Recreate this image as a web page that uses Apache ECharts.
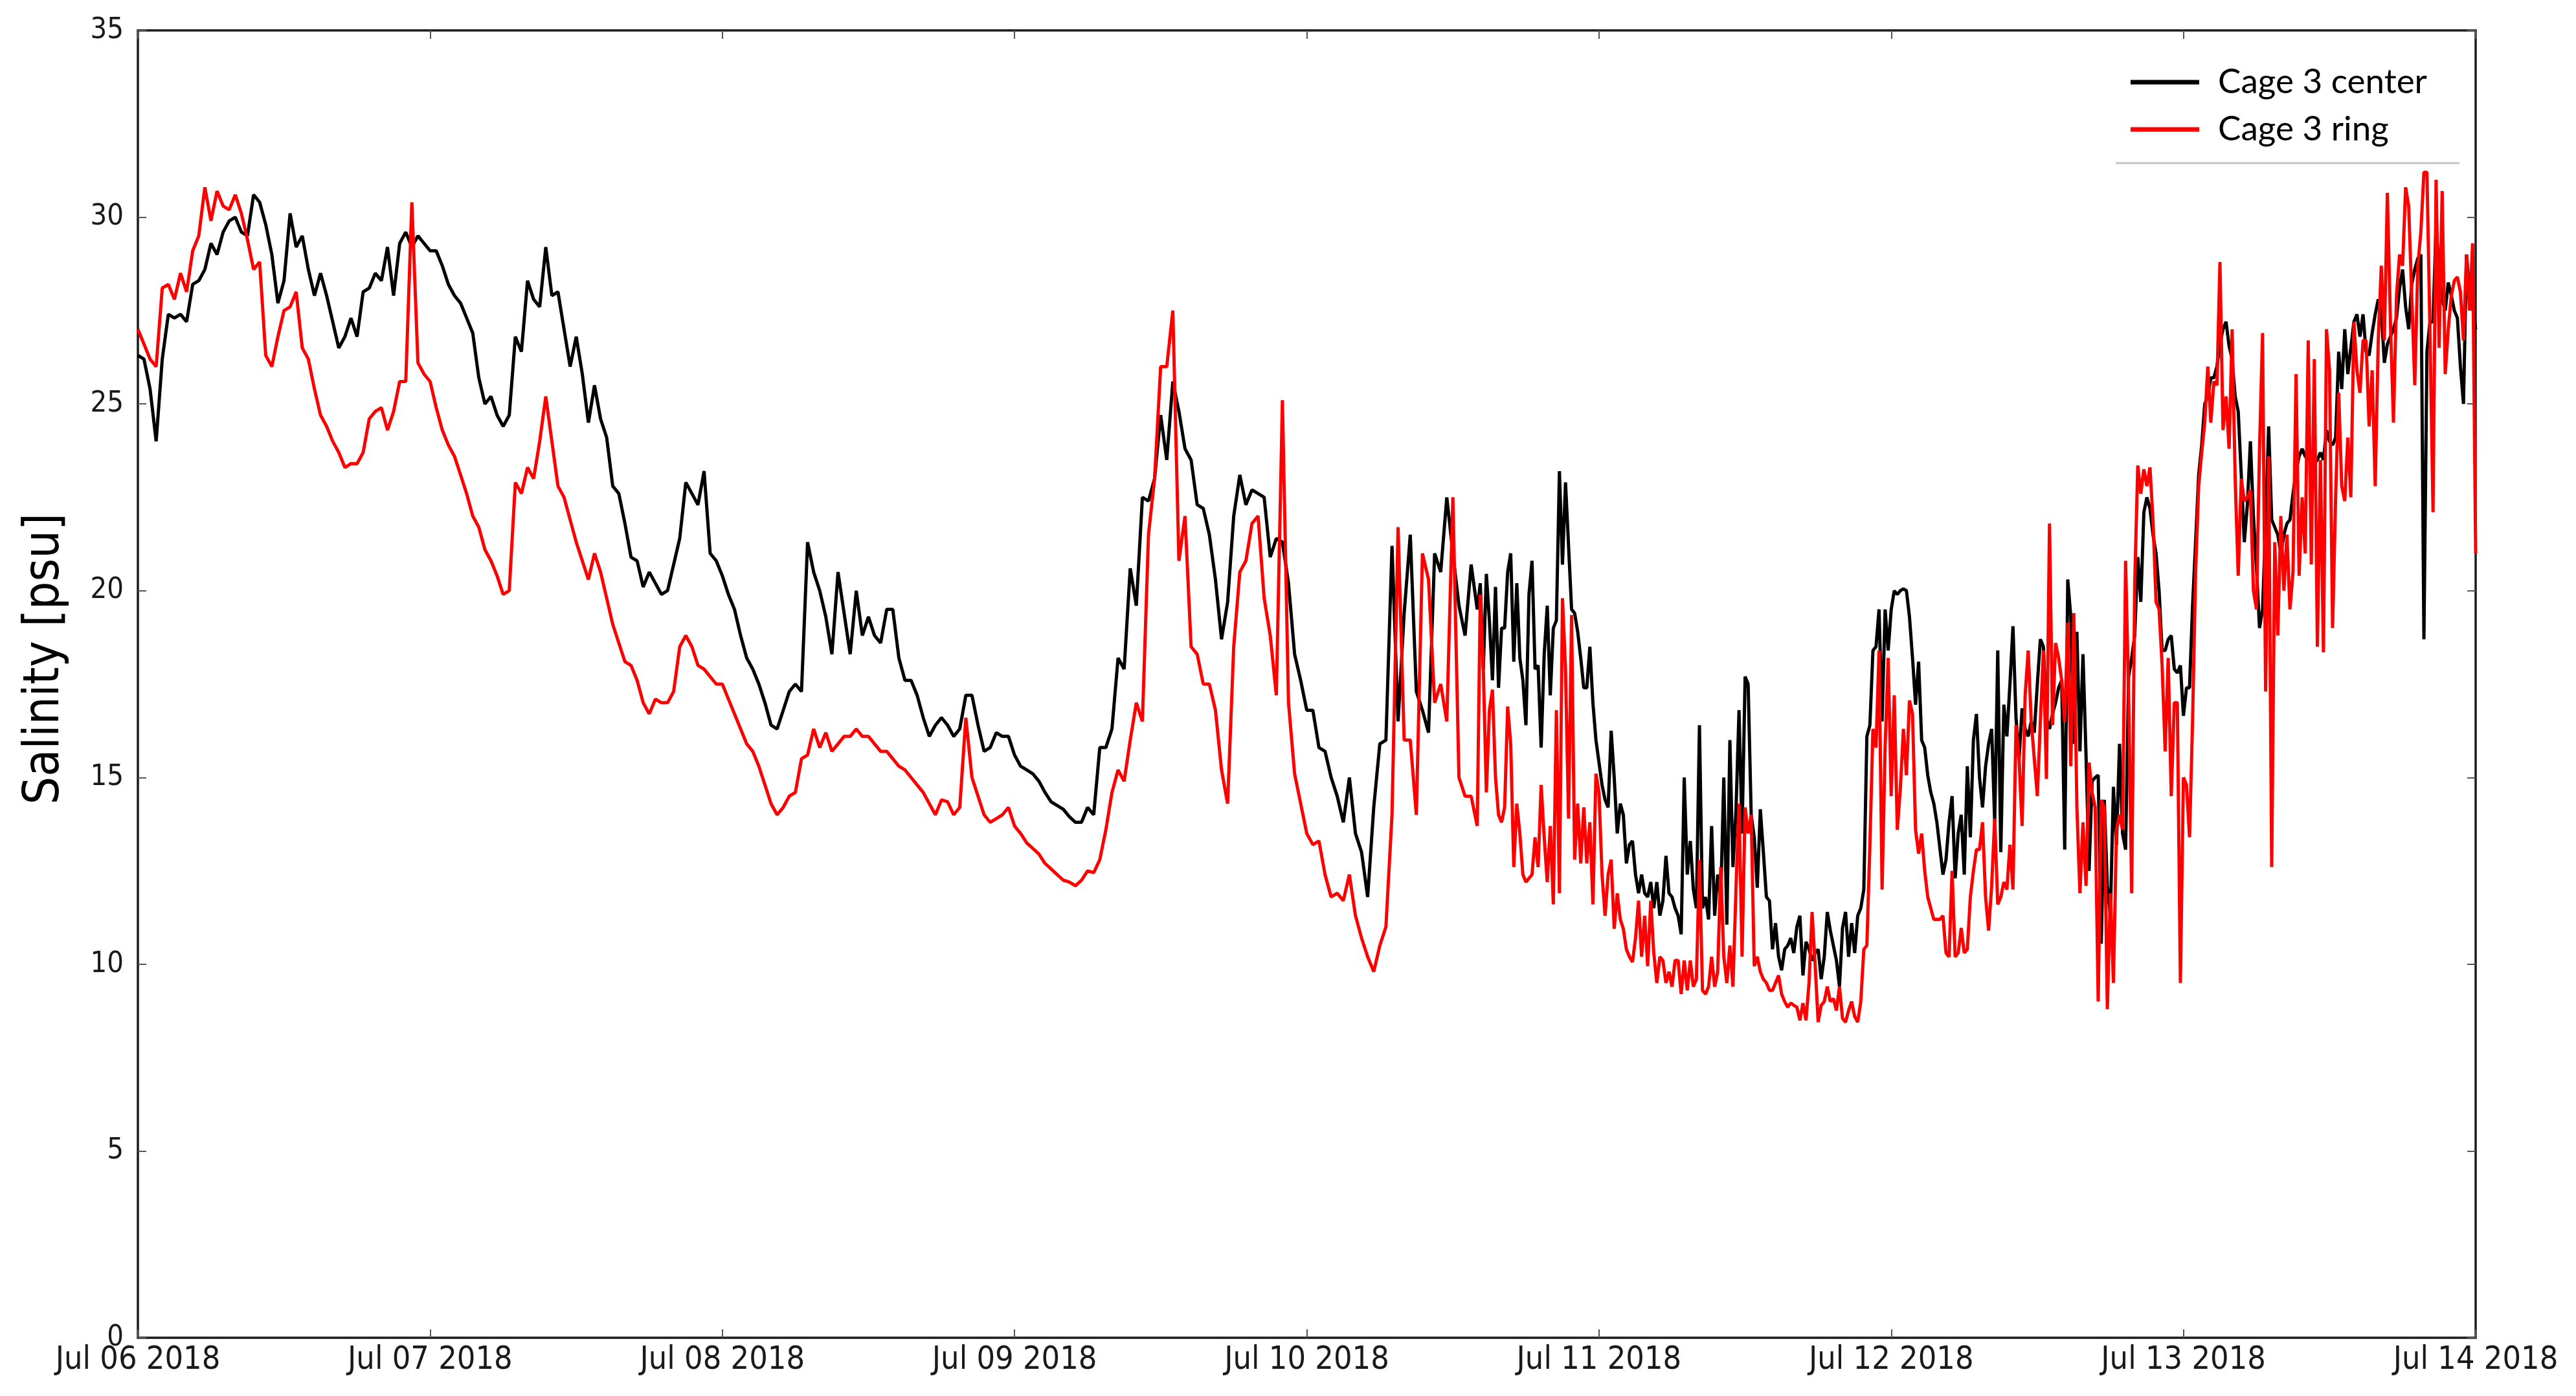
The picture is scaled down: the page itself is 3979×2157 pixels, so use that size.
<!DOCTYPE html>
<html><head><meta charset="utf-8">
<script src="https://cdn.jsdelivr.net/npm/echarts@6/dist/echarts.min.js"></script>
<style>html,body{margin:0;padding:0;background:#fff}#c{width:3979px;height:2157px}</style>
</head><body><div id="c"></div>
<script>
// x tick labels (one per day, Jul 06 00:00 .. Jul 14 00:00)
const tickLabels = ['Jul 06 2018','Jul 07 2018','Jul 08 2018','Jul 09 2018','Jul 10 2018','Jul 11 2018','Jul 12 2018','Jul 13 2018','Jul 14 2018'];
const seriesNames = ['Cage 3 center', 'Cage 3 ring'];
// part A: every 30 min from hour 0 to 109.5; part B: every 15 min from hour 110 to 192
const stepA = 0.5, startB = 110, stepB = 0.25;

// Cage 3 center salinity [psu], part A, rows of 10 samples (5 h each)
const centerA = [
 26.3,26.2,25.4,24.0,26.2,27.4,27.3,27.4,27.2,28.2,
 28.3,28.6,29.3,29.0,29.6,29.9,30.0,29.6,29.5,30.6,
 30.4,29.8,29.0,27.7,28.3,30.1,29.2,29.5,28.6,27.9,
 28.5,27.9,27.2,26.5,26.8,27.3,26.8,28.0,28.1,28.5,
 28.3,29.2,27.9,29.3,29.6,29.2,29.5,29.3,29.1,29.1,
 28.7,28.2,27.9,27.7,27.3,26.9,25.7,25.0,25.2,24.7,
 24.4,24.7,26.8,26.4,28.3,27.8,27.6,29.2,27.9,28.0,
 27.0,26.0,26.8,25.8,24.5,25.5,24.6,24.1,22.8,22.6,
 21.8,20.9,20.8,20.1,20.5,20.2,19.9,20.0,20.7,21.4,
 22.9,22.6,22.3,23.2,21.0,20.8,20.4,19.9,19.5,18.8,
 18.2,17.9,17.5,17.0,16.4,16.3,16.8,17.3,17.5,17.3,
 21.3,20.5,20.0,19.3,18.3,20.5,19.4,18.3,20.0,18.8,
 19.3,18.8,18.6,19.5,19.5,18.2,17.6,17.6,17.2,16.6,
 16.1,16.4,16.6,16.4,16.1,16.3,17.2,17.2,16.4,15.7,
 15.8,16.2,16.1,16.1,15.6,15.3,15.2,15.1,14.9,14.6,
 14.35,14.25,14.15,13.95,13.8,13.8,14.2,14.0,15.8,15.8,
 16.3,18.2,17.9,20.6,19.6,22.5,22.4,23.0,24.7,23.5,
 25.6,24.8,23.8,23.5,22.3,22.2,21.5,20.3,18.7,19.7,
 22.0,23.1,22.3,22.7,22.6,22.5,20.9,21.4,21.3,20.2,
 18.3,17.6,16.8,16.8,15.8,15.7,15.0,14.5,13.8,15.0,
 13.5,13.0,11.8,14.2,15.9,16.0,21.2,16.5,19.4,21.5,
 17.3,16.8,16.2,21.0,20.5,22.5,21.0,19.6,18.8,20.7
];
// Cage 3 center, part B, rows of 8 samples (2 h each)
const centerB = [
 19.5,20.2,17.9,20.45,19.2,17.6,20.1,17.4,
 19.0,19.0,20.5,21.0,18.1,20.2,18.2,17.6,
 16.4,19.9,20.8,17.9,18.0,15.8,18.3,19.6,
 17.2,19.0,19.2,23.2,20.7,22.9,21.2,19.5,
 19.4,18.9,18.2,17.4,17.4,18.5,17.0,16.0,
 15.4,14.8,14.4,14.2,16.25,15.0,13.5,14.3,
 14.0,12.7,13.2,13.3,12.4,11.9,12.4,11.9,
 11.8,12.2,11.5,12.2,11.3,11.7,12.9,11.9,
 11.8,11.5,11.3,10.8,15.0,12.4,13.3,12.0,
 11.5,16.4,11.5,11.8,11.2,13.7,11.3,12.4,
 11.8,15.0,11.06,16.0,12.6,14.1,16.8,13.5,
 17.7,17.5,14.0,13.4,12.05,14.15,13.0,11.8,
 11.7,10.4,11.1,10.2,9.84,10.4,10.5,10.7,
 10.3,11.0,11.3,9.7,10.6,10.4,10.1,10.3,
 10.4,9.6,10.2,11.4,10.9,10.5,10.1,9.4,
 10.97,11.4,10.2,11.1,10.3,11.3,11.5,12.0,
 16.1,16.4,18.4,18.5,19.5,16.5,19.5,18.4,
 19.5,20.0,19.9,20.0,20.05,20.0,19.3,18.2,
 16.95,18.1,16.0,15.8,15.06,14.6,14.3,13.8,
 13.1,12.4,12.8,13.8,14.5,12.3,13.5,14.0,
 12.4,15.3,13.4,16.0,16.7,15.0,14.2,15.3,
 15.9,16.3,13.8,18.4,13.0,16.95,16.1,17.5,
 19.05,16.6,15.5,16.85,16.3,16.1,16.5,16.2,
 17.5,18.7,18.5,16.6,16.3,16.7,17.0,17.4,
 17.6,13.07,20.3,19.3,15.9,18.9,15.7,18.3,
 15.6,12.5,14.9,15.0,15.06,10.55,14.4,12.1,
 11.3,14.75,13.2,15.9,13.5,13.07,17.7,18.2,
 18.8,20.9,19.7,22.1,22.5,22.2,21.5,21.0,
 20.0,18.4,18.4,18.7,18.8,17.9,17.8,18.0,
 16.65,17.4,17.4,19.6,21.3,23.1,23.9,25.0,
 25.2,25.7,25.7,26.0,26.6,27.0,27.2,26.55,
 26.2,25.2,24.8,23.1,21.3,22.3,24.0,22.0,
 20.6,19.0,19.5,21.8,24.4,21.9,21.7,21.5,
 21.0,21.5,21.8,21.9,22.6,23.2,23.6,23.8,
 23.6,23.5,23.6,23.4,23.5,23.7,23.5,24.3,
 24.0,23.9,24.1,26.4,25.4,27.0,25.8,26.5,
 27.2,27.4,26.8,27.4,26.4,26.3,26.9,27.4,
 27.8,27.5,26.1,26.6,26.8,27.0,27.3,28.1,
 28.6,27.6,27.0,28.2,28.6,28.9,29.0,18.7,
 26.4,27.2,27.2,29.8,28.5,27.8,27.5,28.25,
 27.9,27.5,27.3,26.0,25.0,29.0,28.0,27.6,
 27.0
];

// Cage 3 ring salinity [psu], part A, rows of 10 samples (5 h each)
const ringA = [
 27.0,26.6,26.2,26.0,28.1,28.2,27.8,28.5,28.0,29.1,
 29.5,30.8,29.9,30.7,30.3,30.2,30.6,30.1,29.4,28.6,
 28.8,26.3,26.0,26.8,27.5,27.6,28.0,26.5,26.2,25.4,
 24.7,24.4,24.0,23.7,23.3,23.4,23.4,23.7,24.6,24.8,
 24.9,24.3,24.8,25.6,25.6,30.4,26.1,25.8,25.6,24.9,
 24.3,23.9,23.6,23.1,22.6,22.0,21.7,21.1,20.8,20.4,
 19.9,20.0,22.9,22.6,23.3,23.0,24.0,25.2,24.0,22.8,
 22.5,21.9,21.3,20.8,20.3,21.0,20.5,19.8,19.1,18.6,
 18.1,18.0,17.6,17.0,16.7,17.1,17.0,17.0,17.3,18.5,
 18.8,18.5,18.0,17.9,17.7,17.5,17.5,17.1,16.7,16.3,
 15.9,15.7,15.3,14.8,14.3,14.0,14.2,14.5,14.6,15.5,
 15.6,16.3,15.8,16.2,15.7,15.9,16.1,16.1,16.3,16.1,
 16.1,15.9,15.7,15.7,15.5,15.3,15.2,15.0,14.8,14.6,
 14.3,14.0,14.4,14.35,14.0,14.2,16.6,15.0,14.5,14.0,
 13.8,13.9,14.0,14.2,13.7,13.5,13.25,13.1,12.95,12.7,
 12.55,12.4,12.25,12.2,12.1,12.25,12.5,12.45,12.8,13.6,
 14.6,15.2,14.9,16.0,17.0,16.5,21.5,23.0,26.0,26.0,
 27.5,20.8,22.0,18.5,18.3,17.5,17.5,16.8,15.2,14.3,
 18.5,20.5,20.8,21.8,22.0,19.8,18.8,17.2,25.1,17.0,
 15.1,14.3,13.5,13.2,13.3,12.4,11.8,11.9,11.7,12.4,
 11.3,10.7,10.2,9.8,10.5,11.0,14.0,21.7,16.0,16.0,
 14.0,21.0,20.3,17.0,17.5,16.5,22.5,15.0,14.5,14.5
];
// Cage 3 ring, part B, rows of 8 samples (2 h each)
const ringB = [
 13.7,19.9,17.9,14.6,16.8,17.35,15.0,14.0,
 13.8,14.2,16.9,15.9,12.6,14.3,13.5,12.4,
 12.2,12.3,12.4,13.4,12.6,14.8,13.4,12.2,
 13.7,11.6,16.8,11.9,19.8,17.9,13.9,19.35,
 12.8,14.3,12.7,14.2,12.7,13.8,11.6,15.1,
 14.6,12.4,11.3,12.4,12.8,10.95,11.9,11.2,
 10.95,10.4,10.2,10.06,10.7,11.7,10.2,11.3,
 9.95,11.7,10.3,9.5,10.2,10.1,9.5,9.8,
 9.4,10.1,10.1,9.2,10.1,9.3,10.1,9.4,
 9.6,12.8,9.3,9.2,9.4,10.2,9.4,9.8,
 12.6,10.2,9.5,10.5,9.4,12.0,14.3,10.2,
 14.2,13.5,14.0,9.95,10.2,9.8,9.6,9.5,
 9.3,9.3,9.5,9.7,9.2,9.0,8.85,8.96,
 8.9,8.85,8.5,8.96,8.5,9.5,11.4,10.0,
 8.45,8.9,9.0,9.4,9.0,9.08,8.76,9.4,
 8.55,8.45,8.76,9.0,8.6,8.45,9.0,10.4,
 10.5,13.2,16.3,15.8,18.4,12.0,15.8,18.2,
 14.5,17.2,13.6,14.7,16.3,15.06,17.06,16.7,
 13.6,12.96,13.5,12.5,11.8,11.5,11.2,11.2,
 11.2,11.3,10.3,10.2,12.5,10.2,10.3,10.97,
 10.3,10.4,11.8,12.5,13.07,13.07,13.8,11.8,
 10.9,12.1,13.9,11.6,11.8,12.2,12.0,13.2,
 12.0,16.4,15.5,13.7,17.2,18.4,16.5,15.5,
 14.5,16.5,18.4,14.96,21.8,16.4,18.6,18.2,
 17.6,16.5,19.15,15.3,19.4,14.2,11.9,13.8,
 12.1,15.4,14.6,14.2,9.0,14.4,14.2,8.8,
 11.9,9.5,13.6,14.0,13.6,20.8,17.2,11.9,
 20.2,23.35,22.6,23.25,22.8,23.3,21.9,19.7,
 19.5,18.0,15.7,18.2,14.5,17.0,17.0,9.5,
 15.0,14.8,13.4,16.5,20.5,22.8,23.7,24.5,
 26.0,24.5,25.6,25.5,28.8,24.3,25.2,23.8,
 27.0,23.0,20.4,23.0,22.4,22.5,22.7,20.0,
 19.5,23.8,26.9,17.3,23.6,12.6,21.3,18.8,
 22.0,20.0,21.5,19.5,20.5,25.8,20.4,22.5,
 21.0,26.7,20.7,26.2,18.5,23.5,18.35,27.0,
 25.9,19.0,22.5,25.3,22.8,22.4,24.1,22.5,
 27.2,25.9,25.3,26.7,26.7,24.4,25.9,22.8,
 26.7,28.7,26.7,30.65,27.2,24.5,27.9,29.0,
 28.7,30.8,30.3,27.9,25.5,28.7,29.6,31.2,
 31.2,26.9,22.1,31.0,26.5,30.7,25.8,27.0,
 27.9,28.3,28.4,28.0,26.7,29.0,27.5,29.3,
 21.0
];

const FONT = "'DejaVu Sans Condensed', 'DejaVu Sans', sans-serif";
const pairs = (a, b) => a.map((v, i) => [i * stepA, v]).concat(b.map((v, i) => [startB + i * stepB, v]));

const chart = echarts.init(document.getElementById('c'), null, {renderer: 'canvas'});
const axisCommon = {
  type: 'value', min: 0, max: 192, interval: 24,
  axisLine: {show: true, onZero: false, lineStyle: {color: '#1a1a1a', width: 3.5}},
  axisTick: {show: true, inside: true, length: 13, lineStyle: {color: '#555', width: 2}},
  splitLine: {show: false}
};
const yCommon = {
  type: 'value', min: 0, max: 35, interval: 5,
  axisLine: {show: true, onZero: false, lineStyle: {color: '#1a1a1a', width: 3.5}},
  axisTick: {show: true, inside: true, length: 13, lineStyle: {color: '#555', width: 2}},
  splitLine: {show: false}
};
chart.setOption({
  animation: false,
  backgroundColor: '#fff',
  grid: {left: 213, right: 155, top: 47, bottom: 90, containLabel: false},
  xAxis: [
    Object.assign({}, axisCommon, {
      position: 'bottom',
      axisLabel: {show: true, margin: 10, fontFamily: FONT, fontSize: 50, color: '#1a1a1a',
        showMinLabel: true, showMaxLabel: true, hideOverlap: false,
        formatter: v => tickLabels[Math.round(v / 24)] || ''}
    }),
    Object.assign({}, axisCommon, {position: 'top', axisLabel: {show: false}})
  ],
  yAxis: [
    Object.assign({}, yCommon, {
      position: 'left',
      name: 'Salinity [psu]', nameLocation: 'middle', nameGap: 105,
      nameTextStyle: {fontFamily: FONT, fontSize: 76, color: '#000', padding: [0, 0, 0, 78]},
      axisLabel: {show: true, margin: 22, fontFamily: FONT, fontSize: 45, color: '#1a1a1a'}
    }),
    Object.assign({}, yCommon, {position: 'right', axisLabel: {show: false}})
  ],
  legend: {
    orient: 'vertical', left: 3286, top: 92,
    itemWidth: 106, itemHeight: 7, itemGap: 13, icon: 'rect',
    textStyle: {fontFamily: "Lato, 'Open Sans', sans-serif", fontSize: 53, color: '#000', lineHeight: 60, padding: [0, 0, 0, 24]},
    data: seriesNames
  },
  graphic: [{type: 'line', shape: {x1: 3268, y1: 252, x2: 3799, y2: 252}, style: {stroke: '#c4c4c4', lineWidth: 3}, silent: true}],
  series: [
    {name: seriesNames[0], type: 'line', data: pairs(centerA, centerB), showSymbol: false, symbol: 'none',
     color: '#000000', lineStyle: {color: '#000000', width: 5}, z: 2},
    {name: seriesNames[1], type: 'line', data: pairs(ringA, ringB), showSymbol: false, symbol: 'none',
     color: '#ff0000', lineStyle: {color: '#ff0000', width: 5}, z: 3}
  ]
});
</script>
</body></html>
